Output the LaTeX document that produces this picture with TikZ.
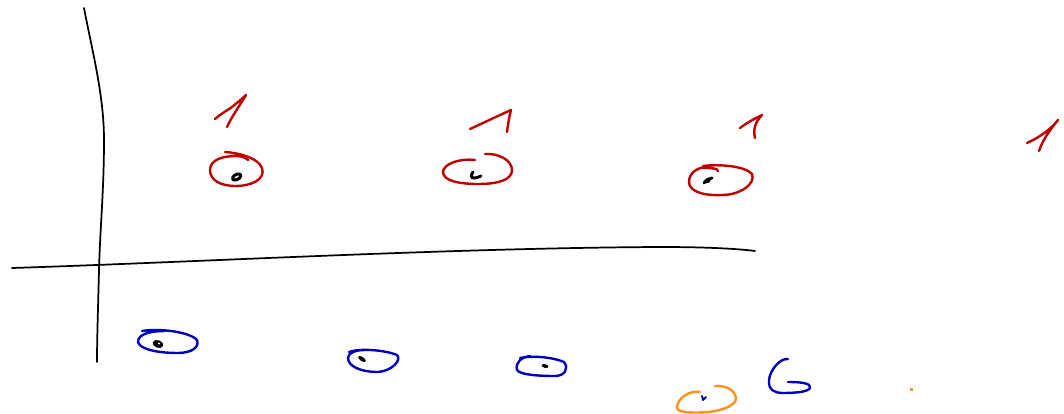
\documentclass[tikz,border=0pt]{standalone}
\usetikzlibrary{calc}
\definecolor{skred}{RGB}{192,0,0}
\definecolor{skblue}{RGB}{0,0,192}
\definecolor{skorange}{RGB}{255,145,30}
\tikzset{
  ink/.style={line width=1.8pt,line cap=round,line join=round},
  axisline/.style={ink,black,line width=1.3pt},
  redink/.style={ink,skred},
  blueink/.style={ink,skblue},
  orangeink/.style={ink,skorange},
  blob/.style={ink,black,line width=2.2pt},
}
\begin{document}
\begin{tikzpicture}[x=0.75pt,y=-0.75pt]
\useasboundingbox (0,0) rectangle (1064,414);
% axes
\draw[axisline] (84,8) .. controls (92,50) and (104,95) .. (104,140)
  .. controls (104,190) and (100,230) .. (99,270)
  .. controls (98,310) and (97,340) .. (97,362);
\draw[axisline] (12,268) .. controls (200,262) and (450,248) .. (660,247)
  .. controls (710,247) and (740,249) .. (755,251);
% red ones
\draw[redink] (215,119) .. controls (222,113) and (228,110) .. (232,107)
  .. controls (238,102) and (243,98) .. (246,95) .. controls (238,108) and (231,118) .. (227,127);
\draw[redink] (470,129) .. controls (485,122) and (500,115) .. (511,110) .. controls (509,117) and (508,125) .. (507,132);
\draw[redink] (740,128) .. controls (748,122) and (756,118) .. (762,115) .. controls (755,122) and (753,130) .. (755,138);
\draw[redink] (1027,143) .. controls (1040,137) and (1050,130) .. (1058,120) .. controls (1048,132) and (1042,142) .. (1039,151);
% red circles
\draw[redink] (225,152) .. controls (240,153) and (258,158) .. (262,168)
  .. controls (266,180) and (250,186) .. (236,186)
  .. controls (220,186) and (210,180) .. (210,170)
  .. controls (210,160) and (222,156) .. (236,156) .. controls (242,156) and (246,158) .. (248,160);
\draw[redink] (475,160) .. controls (460,158) and (443,164) .. (443,172)
  .. controls (443,181) and (460,184) .. (478,184)
  .. controls (498,184) and (512,180) .. (512,170)
  .. controls (512,160) and (498,153) .. (485,154);
\draw[redink] (703,168) .. controls (710,168) and (718,168) .. (718,171)
  (703,166) .. controls (720,164) and (745,166) .. (752,174)
  .. controls (756,184) and (740,195) .. (722,195)
  .. controls (700,196) and (689,190) .. (689,182)
  .. controls (689,173) and (697,168) .. (705,167);
% black marks in red circles
\draw[blob] (233,180) .. controls (231,177) and (236,173) .. (240,174) .. controls (243,176) and (238,181) .. (233,180);
\draw[blob] (473,172) .. controls (469,178) and (472,180) .. (481,176);
\draw[blob] (704,183) .. controls (706,180) and (709,178) .. (712,178) (705,182) -- (709,181);
% blue circles
\draw[blueink] (142,331) .. controls (160,328) and (190,332) .. (197,340)
  .. controls (200,348) and (190,353) .. (178,353)
  .. controls (160,353) and (140,350) .. (138,342)
  .. controls (138,334) and (150,331) .. (165,331);
\fill[black] (158,344) ellipse [x radius=5.5, y radius=3.8, rotate=-20];
\fill[white] (159,343.5) circle (1.2);
\draw[blueink] (349,352) .. controls (360,348) and (385,350) .. (397,355)
  .. controls (402,360) and (392,371) .. (378,372)
  .. controls (360,372) and (348,366) .. (348,358)
  .. controls (348,353) and (355,350) .. (365,350);
\fill[black] (362,359) ellipse [x radius=4.5, y radius=2, rotate=-35];
\draw[blueink] (520,358) .. controls (535,355) and (555,358) .. (564,362)
  .. controls (569,368) and (565,376) .. (555,376)
  .. controls (540,376) and (520,375) .. (517,370)
  .. controls (515,362) and (522,357) .. (530,356);
\fill[black] (545,366) ellipse [x radius=3.5, y radius=1.8, rotate=-15];
% blue G
\draw[blueink] (788,359) .. controls (780,358) and (770,370) .. (769,380)
  .. controls (768,390) and (775,393) .. (782,393)
  .. controls (795,393) and (808,392) .. (810,388)
  .. controls (811,384) and (805,382) .. (788,382);
% orange circle
\draw[orangeink] (700,392) .. controls (690,390) and (677,398) .. (677,408)
  .. controls (678,413) and (695,413) .. (708,412)
  .. controls (725,410) and (736,405) .. (736,398)
  .. controls (735,390) and (725,385) .. (715,386);
\draw[ink,skblue,line width=1.4pt] (702,396) -- (703,400) -- (706,397);
% orange dot
\fill[skorange] (910,388) rectangle (913,391);
\end{tikzpicture}
\end{document}
